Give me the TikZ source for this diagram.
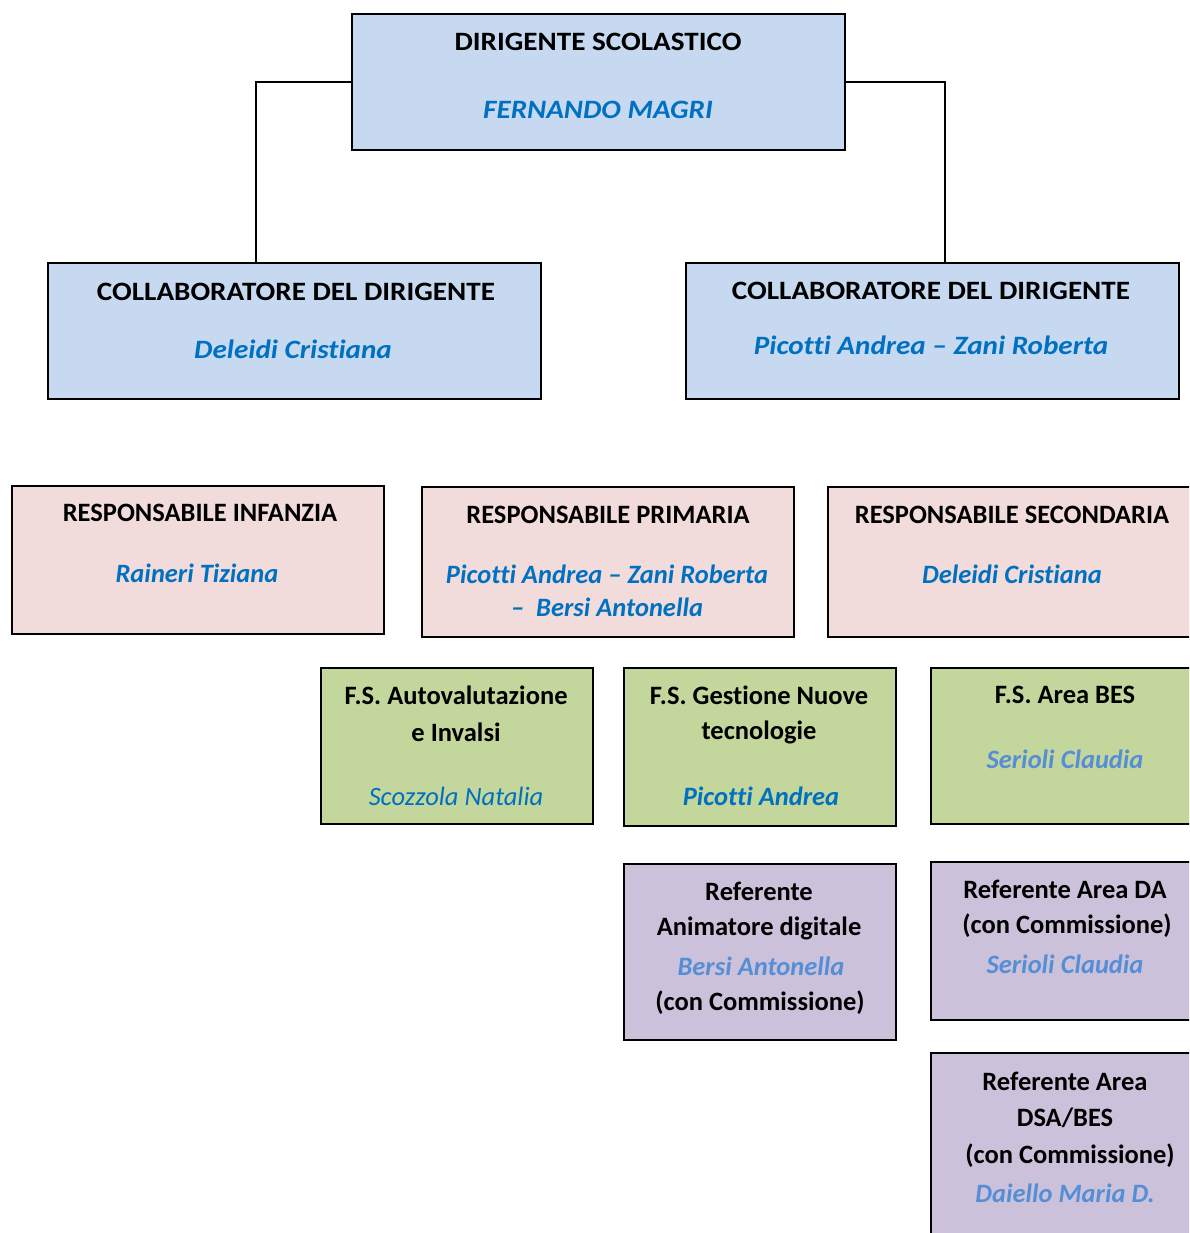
\documentclass[tikz,border=0pt]{standalone}
\usepackage{fontspec}
\setmainfont{Carlito}[Ligatures={TeX,NoCommon}]
\newfontfamily\widefont{Carlito}[FakeStretch=1.1,Ligatures={TeX,NoCommon}]
\definecolor{boxblue}{HTML}{C6D9F1}
\definecolor{boxpink}{HTML}{F2DCDB}
\definecolor{boxgreen}{HTML}{C3D69B}
\definecolor{boxpurple}{HTML}{CCC1DA}
\definecolor{namedark}{HTML}{0070C0}
\definecolor{namelight}{HTML}{558ED5}
\begin{document}
\begin{tikzpicture}[x=1pt,y=-1pt,
  box/.style={draw=black,line width=2pt,inner sep=0pt,anchor=north west},
  ttl/.style={font=\fontsize{26.5}{30}\selectfont\bfseries,text=black,inner sep=0pt},
  nmd/.style={font=\fontsize{26.5}{30}\selectfont\bfseries\itshape,text=namedark,inner sep=0pt},
  nmp/.style={font=\fontsize{26.5}{30}\selectfont\itshape,text=namedark,inner sep=0pt},
  nml/.style={font=\fontsize{26.5}{30}\selectfont\bfseries\itshape,text=namelight,inner sep=0pt},
  bttl/.style={font=\widefont\fontsize{26.5}{30}\selectfont\bfseries,text=black,inner sep=0pt},
  bnmd/.style={font=\widefont\fontsize{26.5}{30}\selectfont\bfseries\itshape,text=namedark,inner sep=0pt},
  conn/.style={draw=black,line width=1.5pt}]
\useasboundingbox (0,0) rectangle (1189,1233);
\clip (0,0) rectangle (1189,1233);
% top boxes
\node[box,fill=boxblue,minimum width=493pt,minimum height=136pt] (dir) at (351,13) {};
\node[bttl] (dirT) at (598,42) {DIRIGENTE SCOLASTICO};
\node[bnmd] (dirN) at (598,110) {FERNANDO MAGRI};
\node[box,fill=boxblue,minimum width=493pt,minimum height=136pt] (colL) at (47,262) {};
\node[bttl] (colLT) at (296,292) {COLLABORATORE DEL DIRIGENTE};
\node[bnmd] (colLN) at (293,349) {Deleidi Cristiana};
\node[box,fill=boxblue,minimum width=493pt,minimum height=136pt] (colR) at (685,262) {};
\node[bttl] (colRT) at (931,291) {COLLABORATORE DEL DIRIGENTE};
\node[bnmd] (colRN) at (931,345) {Picotti Andrea \textendash{} Zani Roberta};
\coordinate (cL) at (256,262);
\coordinate (cR) at (945,262);
\draw[conn] (dir.west) -| (cL);
\draw[conn] (dir.east) -| (cR);
% responsabili
\node[box,fill=boxpink,minimum width=372pt,minimum height=148pt] (inf) at (11,485) {};
\node[ttl] (infT) at (200,513) {RESPONSABILE INFANZIA};
\node[nmd] (infN) at (197,573) {Raineri Tiziana};
\node[box,fill=boxpink,minimum width=372pt,minimum height=150pt] (pri) at (421,486) {};
\node[ttl] (priT) at (608,515) {RESPONSABILE PRIMARIA};
\node[nmd] (priN) at (607,574) {Picotti Andrea \textendash{} Zani Roberta};
\node[nmd] (priN2) at (607,607) {\textendash\ \ Bersi Antonella};
\node[box,fill=boxpink,minimum width=372pt,minimum height=150pt] (sec) at (827,486) {};
\node[ttl] (secT) at (1012,515) {RESPONSABILE SECONDARIA};
\node[nmd] (secN) at (1012,574) {Deleidi Cristiana};
% funzioni strumentali
\node[box,fill=boxgreen,minimum width=272pt,minimum height=156pt] (fs1) at (320,667) {};
\node[ttl] (fs1T) at (456,695) {F.S. Autovalutazione};
\node[ttl] (fs1T2) at (456,732) {e Invalsi};
\node[nmp] (fs1N) at (456,796) {Scozzola Natalia};
\node[box,fill=boxgreen,minimum width=272pt,minimum height=158pt] (fs2) at (623,667) {};
\node[ttl] (fs2T) at (759,695) {F.S. Gestione Nuove};
\node[ttl] (fs2T2) at (759,732) {tecnologie};
\node[nmd] (fs2N) at (761,796) {Picotti Andrea};
\node[box,fill=boxgreen,minimum width=272pt,minimum height=156pt] (fs3) at (930,667) {};
\node[ttl] (fs3T) at (1065,695) {F.S. Area BES};
\node[nml] (fs3N) at (1065,759) {Serioli Claudia};
% referenti
\node[box,fill=boxpurple,minimum width=272pt,minimum height=176pt] (ref1) at (623,863) {};
\node[ttl] (ref1T) at (759,891) {Referente};
\node[ttl] (ref1T2) at (759,928) {Animatore digitale};
\node[nml] (ref1N) at (761,966) {Bersi Antonella};
\node[ttl] (ref1T3) at (760,1003) {(con Commissione)};
\node[box,fill=boxpurple,minimum width=272pt,minimum height=158pt] (ref2) at (930,861) {};
\node[ttl] (ref2T) at (1065,889) {Referente Area DA};
\node[ttl] (ref2T2) at (1067,926) {(con Commissione)};
\node[nml] (ref2N) at (1065,964) {Serioli Claudia};
\node[box,fill=boxpurple,minimum width=272pt,minimum height=200pt] (ref3) at (930,1052) {};
\node[ttl] (ref3T) at (1065,1081) {Referente Area};
\node[ttl] (ref3T2) at (1065,1118) {DSA/BES};
\node[ttl] (ref3T3) at (1070,1156) {(con Commissione)};
\node[nml] (ref3N) at (1065,1193) {Daiello Maria D.};
\end{tikzpicture}
\end{document}
